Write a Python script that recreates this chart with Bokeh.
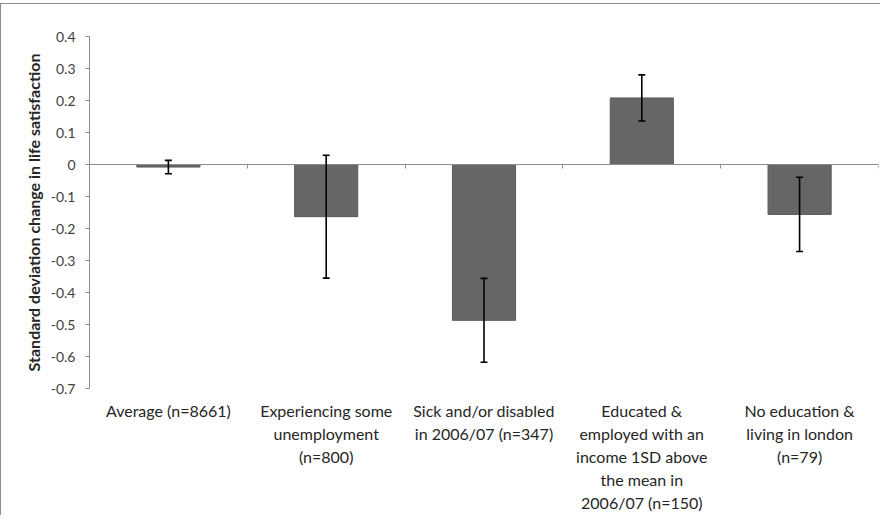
from bokeh.plotting import figure
from bokeh.models import (ColumnDataSource, Range1d, FixedTicker, LinearAxis,
                          Whisker, TeeHead, CustomJSTickFormatter)
from bokeh.embed import file_html
from bokeh.resources import INLINE

# ---- data ----
categories = [
    "Average (n=8661)",
    "Experiencing some\nunemployment\n(n=800)",
    "Sick and/or disabled\nin 2006/07 (n=347)",
    "Educated &\nemployed with an\nincome 1SD above\nthe mean in\n2006/07 (n=150)",
    "No education &\nliving in london\n(n=79)",
]
values = [-0.008, -0.163, -0.487, 0.208, -0.156]
errors = [0.021, 0.192, 0.131, 0.072, 0.116]
y_ticks = [0.4, 0.3, 0.2, 0.1, 0.0, -0.1, -0.2, -0.3, -0.4, -0.5, -0.6, -0.7]
y_title = "Standard deviation change in life satisfaction"

positions = [i + 0.5 for i in range(len(categories))]
boundaries = list(range(len(categories) + 1))
src = ColumnDataSource(dict(
    x=positions, top=values,
    upper=[v + e for v, e in zip(values, errors)],
    lower=[v - e for v, e in zip(values, errors)],
))

FONT = "Lato"
AXIS_GRAY = "#8c8c8c"
TEXT = "#262626"

p = figure(frame_width=789, frame_height=352, output_backend="svg", toolbar_location=None,
           x_range=Range1d(0, len(categories)), y_range=Range1d(-0.7, 0.4),
           min_border_left=88, min_border_right=2, min_border_top=32, min_border_bottom=112,
           x_axis_location=None, y_axis_location="left")
p.styles = {"border-top": "1px solid #8c8c8c", "border-left": "1px solid #8c8c8c",
            "margin-top": "3px"}
p.outline_line_color = None
p.grid.visible = False
p.background_fill_color = "white"

p.vbar(x="x", top="top", bottom=0, width=0.4, source=src,
       fill_color="#666666", line_color="#5a5a5a", line_width=1)

w = Whisker(base="x", upper="upper", lower="lower", source=src, level="overlay",
            line_color="black", line_width=1.6,
            upper_head=TeeHead(size=7, line_color="black", line_width=1.6),
            lower_head=TeeHead(size=7, line_color="black", line_width=1.6))
p.add_layout(w)

# y axis
ya = p.yaxis[0]
ya.ticker = FixedTicker(ticks=y_ticks)
ya.formatter = CustomJSTickFormatter(
    code="return Math.abs(tick) < 1e-9 ? '0' : tick.toFixed(1);")
ya.minor_tick_line_color = None
ya.major_tick_in = 0
ya.major_tick_out = 4
ya.axis_line_color = AXIS_GRAY
ya.major_tick_line_color = AXIS_GRAY
ya.major_label_text_font = FONT
ya.major_label_text_font_size = "14px"
ya.major_label_text_color = "#404040"
ya.major_label_standoff = 10
ya.axis_label = y_title
ya.axis_label_text_font = FONT
ya.axis_label_text_font_size = "16px"
ya.axis_label_text_font_style = "bold"
ya.axis_label_text_color = TEXT
ya.axis_label_standoff = 5

# zero axis with boundary ticks (drawn at y = 0)
za = LinearAxis(fixed_location=0, ticker=FixedTicker(ticks=boundaries))
za.major_label_text_font_size = "0px"
za.major_label_text_alpha = 0
za.axis_line_color = AXIS_GRAY
za.major_tick_line_color = AXIS_GRAY
za.major_tick_in = 4
za.major_tick_out = 0
za.minor_tick_line_color = None
p.add_layout(za, "above")

# category labels axis
ca = LinearAxis(ticker=FixedTicker(ticks=positions),
                major_label_overrides={pos: c for pos, c in zip(positions, categories)})
ca.axis_line_color = None
ca.major_tick_line_color = None
ca.minor_tick_line_color = None
ca.major_tick_out = 0
ca.major_tick_in = 0
ca.major_label_text_font = FONT
ca.major_label_text_font_size = "16px"
ca.major_label_text_line_height = 1.22
ca.major_label_text_color = TEXT
ca.major_label_standoff = 12
p.add_layout(ca, "below")

open("out.html", "w").write(file_html(p, INLINE))
